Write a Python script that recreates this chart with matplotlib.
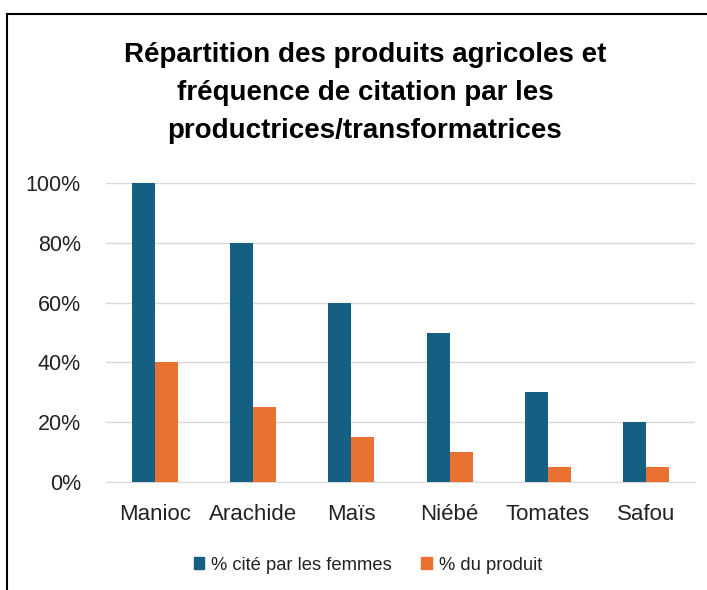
import matplotlib
matplotlib.use("Agg")
import matplotlib.pyplot as plt
from matplotlib.lines import Line2D
from matplotlib.patches import Patch
import numpy as np

categories = ["Manioc", "Arachide", "Maïs", "Niébé", "Tomates", "Safou"]
cite_femmes = [100, 80, 60, 50, 30, 20]
pct_produit = [40, 25, 15, 10, 5, 5]
series_names = ["% cité par les femmes", "% du produit"]
yticks = [0, 20, 40, 60, 80, 100]
title = "Répartition des produits agricoles et\nfréquence de citation par les\nproductrices/transformatrices"

plt.rcParams['font.family'] = ['Liberation Sans', 'DejaVu Sans']

W, H = 707, 590
fig = plt.figure(figsize=(W/100, H/100), dpi=100)
fig.patch.set_facecolor("white")

# frame
fig.add_artist(Line2D([7/W, 1], [1-14/H, 1-14/H], color="black", lw=1.5, transform=fig.transFigure))
fig.add_artist(Line2D([7/W, 7/W], [0, 1-14/H], color="black", lw=1.5, transform=fig.transFigure))

left, right, top, bottom = 106, 695, 183, 482
ax = fig.add_axes([left/W, 1-bottom/H, (right-left)/W, (bottom-top)/H])

x = np.arange(len(categories))
bw = 0.235
c1, c2 = "#156082", "#E97132"
ax.bar(x - bw/2, cite_femmes, bw, color=c1, label=series_names[0], zorder=3)
ax.bar(x + bw/2, pct_produit, bw, color=c2, label=series_names[1], zorder=3)

ax.set_xlim(-0.5, len(categories)-0.5)
ax.set_ylim(0, 100)
ax.set_yticks(yticks)
ax.set_yticklabels([f"{v}%" for v in yticks], fontsize=15.5, color="#222222")
ax.set_xticks(x)
ax.set_xticklabels(categories, fontsize=16, color="#222222")
ax.tick_params(length=0, axis="y", pad=18)
ax.tick_params(length=0, axis="x", pad=16)
ax.grid(axis="y", color="#D9D9D9", lw=1, zorder=0)
for s in ["top", "right", "left"]:
    ax.spines[s].set_visible(False)
ax.spines["bottom"].set_color("#D9D9D9")
ax.set_axisbelow(True)

fig.text(365/W, 1-93/H, title, ha="center", va="center", fontsize=20,
         fontweight="bold", linespacing=1.62, color="black")

handles = [Patch(color=c1), Patch(color=c2)]
fig.legend(handles, series_names, loc="center", bbox_to_anchor=(368/W, 1-565/H),
           ncol=2, frameon=False, fontsize=13.2, handlelength=0.55, handleheight=0.55,
           columnspacing=1.6, handletextpad=0.4, labelcolor="#222222")

fig.savefig("out.png", dpi=100)
